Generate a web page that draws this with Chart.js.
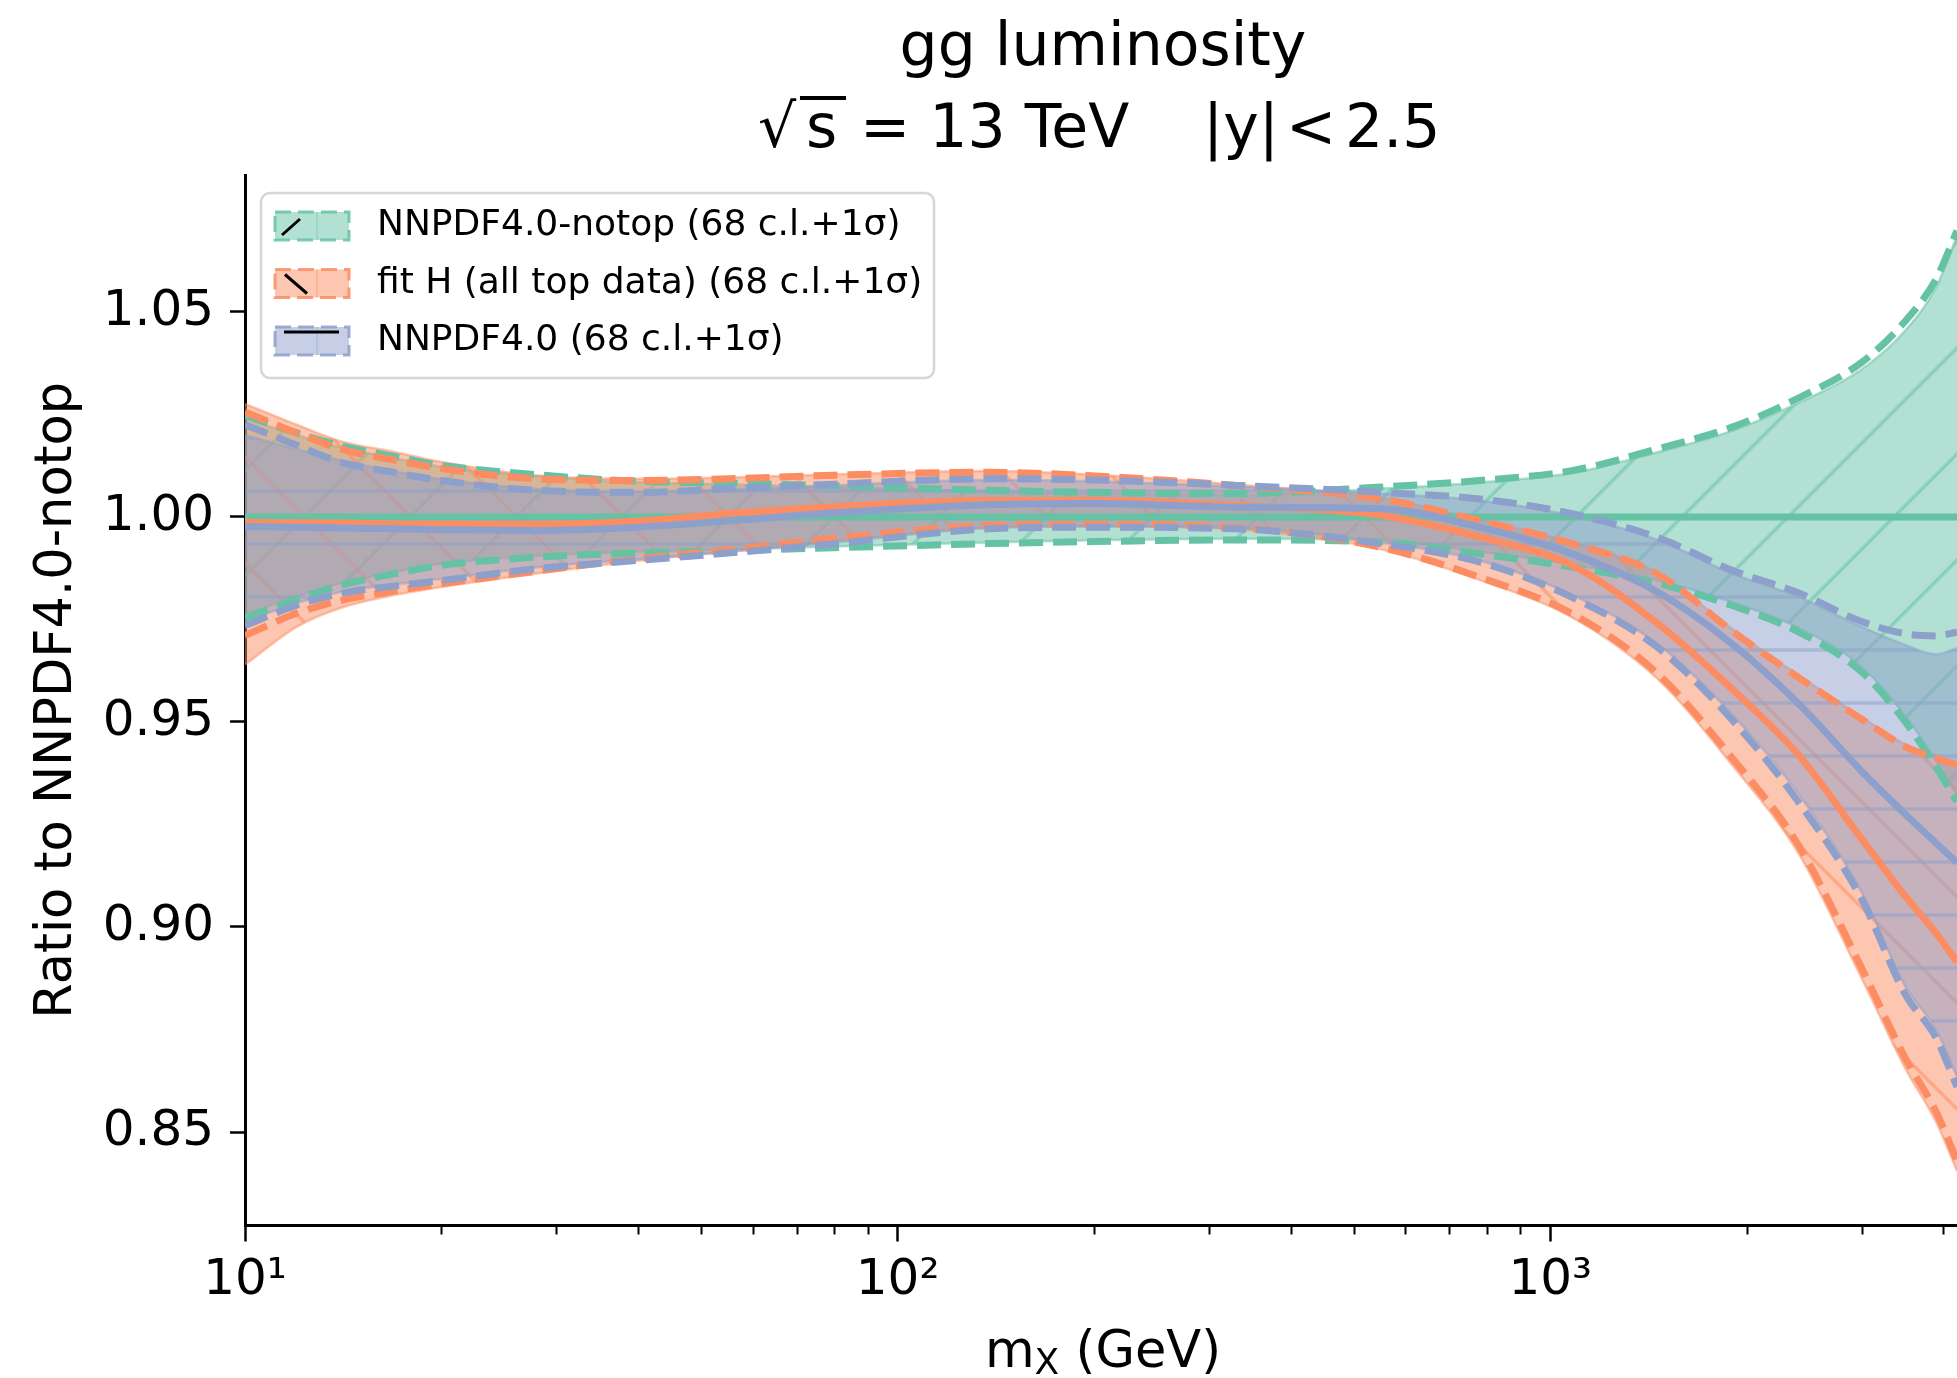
<!DOCTYPE html>
<html>
<head>
<meta charset="utf-8">
<title>gg luminosity ratio</title>
<script src="https://cdn.jsdelivr.net/npm/chart.js@4.4.1/dist/chart.umd.min.js"></script>
<style>
  html, body { margin: 0; padding: 0; background: #fff; }
  #wrap { width: 1957px; height: 1378px; }
</style>
</head>
<body>
<div id="wrap"><canvas id="lumiChart" width="1957" height="1378"></canvas></div>
<script>
// invariant mass points (GeV)
const mX = [10, 12, 14, 17, 20, 28, 40, 57, 80, 138, 200, 330, 550, 780, 1080, 1460, 1900, 2400, 3000, 3500, 3900, 4200];

// NNPDF4.0-notop (reference, so central = 1)
const notopCentral = [1, 1, 1, 1, 1, 1, 1, 1, 1, 1, 1, 1, 1, 1, 1, 1, 1, 1, 1, 1, 1, 1];
const notopBandUp = [1.0240, 1.0200, 1.0170, 1.0143, 1.0122, 1.0100, 1.0085, 1.0079, 1.0073, 1.0062, 1.0057, 1.0054, 1.0069, 1.0084, 1.0107, 1.0158, 1.0210, 1.0278, 1.0360, 1.0455, 1.0560, 1.0685];
const notopBandDn = [0.9762, 0.9806, 0.9838, 0.9866, 0.9886, 0.9905, 0.9915, 0.9921, 0.9928, 0.9938, 0.9943, 0.9947, 0.9943, 0.9915, 0.9884, 0.9845, 0.9792, 0.9730, 0.9635, 0.9515, 0.9405, 0.9320];
const notopSigUp = [1.0248, 1.0205, 1.0174, 1.0147, 1.0126, 1.0103, 1.0087, 1.0082, 1.0076, 1.0065, 1.0060, 1.0057, 1.0073, 1.0089, 1.0113, 1.0166, 1.0219, 1.0290, 1.0377, 1.0478, 1.0580, 1.0698];
const notopSigDn = [0.9754, 0.9800, 0.9833, 0.9862, 0.9882, 0.9902, 0.9912, 0.9918, 0.9925, 0.9935, 0.9940, 0.9944, 0.9939, 0.9910, 0.9878, 0.9838, 0.9784, 0.9720, 0.9622, 0.9500, 0.9390, 0.9306];

// fit H (all top data)
const fitHCentral = [0.9987, 0.9986, 0.9985, 0.9983, 0.9982, 0.9982, 0.9990, 1.0010, 1.0025, 1.0040, 1.0040, 1.0028, 1.0004, 0.9951, 0.9882, 0.9740, 0.9580, 0.9420, 0.9215, 0.9075, 0.8985, 0.8915];
const fitHBandUp = [1.0276, 1.0225, 1.0185, 1.0158, 1.0134, 1.0101, 1.0093, 1.0097, 1.0104, 1.0112, 1.0103, 1.0079, 1.0046, 0.9993, 0.9938, 0.9864, 0.9727, 0.9614, 0.9512, 0.9445, 0.9417, 0.9400];
const fitHBandDn = [0.9640, 0.9732, 0.9778, 0.9810, 0.9829, 0.9862, 0.9893, 0.9918, 0.9941, 0.9975, 0.9978, 0.9970, 0.9921, 0.9846, 0.9755, 0.9605, 0.9395, 0.9180, 0.8875, 0.8655, 0.8525, 0.8405];
const fitHSigUp = [1.0256, 1.0205, 1.0166, 1.0138, 1.0118, 1.0093, 1.0089, 1.0094, 1.0102, 1.0109, 1.0100, 1.0077, 1.0044, 0.9991, 0.9935, 0.9861, 0.9722, 0.9609, 0.9507, 0.9440, 0.9412, 0.9395];
const fitHSigDn = [0.9711, 0.9765, 0.9796, 0.9820, 0.9837, 0.9868, 0.9898, 0.9922, 0.9948, 0.9979, 0.9982, 0.9974, 0.9926, 0.9853, 0.9764, 0.9618, 0.9412, 0.9200, 0.8900, 0.8680, 0.8550, 0.8430];

// NNPDF4.0
const nnpdfCentral = [0.9977, 0.9975, 0.9973, 0.9971, 0.9969, 0.9967, 0.9975, 0.9992, 1.0010, 1.0030, 1.0033, 1.0024, 1.0020, 0.9975, 0.9910, 0.9817, 0.9690, 0.9545, 0.9380, 0.9275, 0.9205, 0.9157];
const nnpdfBandUp = [1.0200, 1.0165, 1.0138, 1.0111, 1.0092, 1.0068, 1.0062, 1.0068, 1.0077, 1.0090, 1.0087, 1.0074, 1.0057, 1.0040, 1.0003, 0.9944, 0.9862, 0.9805, 0.9732, 0.9688, 0.9665, 0.9680];
const nnpdfBandDn = [0.9745, 0.9790, 0.9817, 0.9836, 0.9849, 0.9877, 0.9897, 0.9917, 0.9938, 0.9973, 0.9977, 0.9973, 0.9938, 0.9894, 0.9810, 0.9690, 0.9518, 0.9325, 0.9085, 0.8855, 0.8750, 0.8635];
const nnpdfSigUp = [1.0225, 1.0175, 1.0134, 1.0108, 1.0089, 1.0065, 1.0060, 1.0070, 1.0080, 1.0093, 1.0090, 1.0077, 1.0060, 1.0044, 1.0008, 0.9950, 0.9870, 0.9815, 0.9745, 0.9715, 0.9710, 0.9719];
const nnpdfSigDn = [0.9735, 0.9785, 0.9813, 0.9832, 0.9845, 0.9874, 0.9894, 0.9914, 0.9935, 0.9971, 0.9975, 0.9971, 0.9935, 0.9890, 0.9804, 0.9682, 0.9505, 0.9305, 0.9068, 0.8835, 0.8730, 0.8610];

const pdfLabels = ['NNPDF4.0-notop (68 c.l.+1σ)', 'fit H (all top data) (68 c.l.+1σ)', 'NNPDF4.0 (68 c.l.+1σ)'];
const pdfColors = ['#66c2a5', '#fc8d62', '#8da0cb'];
const pdfHatch = ['/', '\\', '-'];

const yTicks = [0.85, 0.90, 0.95, 1.00, 1.05];
const xTicks = [10, 100, 1000];
const xTickLabels = ['10¹', '10²', '10³'];
const xMinorTicks = [20, 30, 40, 50, 60, 70, 80, 90, 200, 300, 400, 500, 600, 700, 800, 900, 2000, 3000, 4000];

const FONT = 'DejaVu Sans';

function rgba(hex, a) {
  const n = parseInt(hex.slice(1), 16);
  return 'rgba(' + (n >> 16) + ',' + ((n >> 8) & 255) + ',' + (n & 255) + ',' + a + ')';
}

// matplotlib-like hatched fill as a canvas pattern
function hatchPattern(hex, kind) {
  const s = kind === '-' ? 53 : 106;
  const cv = document.createElement('canvas');
  cv.width = s; cv.height = s;
  const g = cv.getContext('2d');
  g.fillStyle = rgba(hex, 0.5);
  g.fillRect(0, 0, s, s);
  g.strokeStyle = rgba(hex, 0.5);
  g.lineWidth = 3.5;
  g.beginPath();
  if (kind === '-') {
    g.moveTo(0, 14); g.lineTo(s, 14);
  } else if (kind === '/') {
    for (const c of [79 - s, 79, 79 + s]) { g.moveTo(-10, c + 10); g.lineTo(s + 10, c - s - 10); }
  } else {
    for (const c of [-s, 0, s]) { g.moveTo(-10, -10 - c); g.lineTo(s + 10, s + 10 - c); }
  }
  g.stroke();
  return g.createPattern(cv, 'repeat');
}

function series(arr) {
  return mX.map((x, i) => ({ x: x, y: arr[i] }));
}

const bands = [[notopBandUp, notopBandDn], [fitHBandUp, fitHBandDn], [nnpdfBandUp, nnpdfBandDn]];
const lines = [[notopCentral, notopSigUp, notopSigDn], [fitHCentral, fitHSigUp, fitHSigDn], [nnpdfCentral, nnpdfSigUp, nnpdfSigDn]];

var datasets = [];
// all bands first, then the lines on top
bands.forEach(function (b, k) {
  datasets.push({ label: pdfLabels[k], data: series(b[0]), borderColor: rgba(pdfColors[k], 0.5), borderWidth: 2.5,
    backgroundColor: hatchPattern(pdfColors[k], pdfHatch[k]), fill: '+1' });
  datasets.push({ label: pdfLabels[k] + ' low', data: series(b[1]), borderColor: rgba(pdfColors[k], 0.5), borderWidth: 2.5, fill: false });
});
lines.forEach(function (l, k) {
  datasets.push({ label: pdfLabels[k] + ' central', data: series(l[0]), borderColor: pdfColors[k], borderWidth: 7, fill: false });
  datasets.push({ label: pdfLabels[k] + ' +1σ', data: series(l[1]), borderColor: pdfColors[k], borderWidth: 7, borderDash: [24, 10], fill: false });
  datasets.push({ label: pdfLabels[k] + ' -1σ', data: series(l[2]), borderColor: pdfColors[k], borderWidth: 7, borderDash: [24, 10], fill: false });
});
// first in list gets drawn first
datasets.forEach(function (d, i) { d.order = datasets.length - i; });

const decorations = {
  id: 'decorations',
  afterDraw(chart) {
    const c = chart.ctx;
    const xs = chart.scales.x;
    const area = chart.chartArea;
    c.save();

    // minor ticks on the log axis
    c.strokeStyle = '#000';
    c.lineWidth = 2;
    c.beginPath();
    xMinorTicks.forEach(function (v) {
      const px = Math.round(xs.getPixelForValue(v)) + 0.5;
      c.moveTo(px, area.bottom);
      c.lineTo(px, area.bottom + 9);
    });
    c.stroke();

    // title
    c.fillStyle = '#000';
    c.textBaseline = 'alphabetic';
    c.textAlign = 'center';
    c.font = '60px "' + FONT + '"';
    c.fillText('gg luminosity', 1103, 65);
    c.textAlign = 'left';
    c.fillText('√', 758, 147);
    c.fillText('s', 806, 147);
    c.lineWidth = 4;
    c.beginPath(); c.moveTo(800, 98); c.lineTo(846, 98); c.stroke();
    c.fillText('= 13 TeV', 860, 147);
    c.fillText('|y|', 1203, 147);
    c.fillText('<', 1286, 147);
    c.fillText('2.5', 1345, 147);

    // x axis label m_X (GeV)
    c.font = '51px "' + FONT + '"';
    const wm = c.measureText('m').width;
    c.font = '36px "' + FONT + '"';
    const wx = c.measureText('X').width;
    c.font = '51px "' + FONT + '"';
    const wr = c.measureText(' (GeV)').width;
    let x0 = 1103 - (wm + wx + wr) / 2;
    c.fillText('m', x0, 1367);
    c.font = '36px "' + FONT + '"';
    c.fillText('X', x0 + wm, 1374);
    c.font = '51px "' + FONT + '"';
    c.fillText(' (GeV)', x0 + wm + wx, 1367);

    // legend
    const bx = 261, by = 193, bw = 673, bh = 185;
    c.beginPath();
    c.roundRect(bx, by, bw, bh, 9);
    c.fillStyle = 'rgba(255,255,255,0.8)';
    c.fill();
    c.strokeStyle = '#d6d6d6';
    c.lineWidth = 2.5;
    c.stroke();
    pdfLabels.forEach(function (lab, k) {
      const hx = 275, hy = 212 + k * 57.5, hw = 74, hh = 28;
      const col = pdfColors[k];
      c.fillStyle = rgba(col, 0.5);
      c.fillRect(hx, hy, hw, hh);
      c.strokeStyle = rgba(col, 0.4);
      c.lineWidth = 1.5;
      c.beginPath(); c.moveTo(hx + hw / 2 + 5, hy); c.lineTo(hx + hw / 2 + 5, hy + hh); c.stroke();
      c.setLineDash([16, 7]);
      c.strokeStyle = rgba(col, 0.85);
      c.lineWidth = 3;
      c.strokeRect(hx, hy, hw, hh);
      c.setLineDash([]);
      c.strokeStyle = '#000';
      c.lineWidth = 3;
      c.beginPath();
      if (pdfHatch[k] === '/') { c.moveTo(hx + 7, hy + 23); c.lineTo(hx + 25, hy + 7); }
      else if (pdfHatch[k] === '\\') { c.moveTo(hx + 10, hy + 5); c.lineTo(hx + 32, hy + 24); }
      else { c.moveTo(hx + 9, hy + 5); c.lineTo(hx + 64, hy + 5); }
      c.stroke();
      c.fillStyle = '#000';
      c.font = '36px "' + FONT + '"';
      c.fillText(lab, 377, hy + 23);
    });
    c.restore();
  }
};

const ctx = document.getElementById('lumiChart');
const lumiChart = new Chart(ctx, {
  type: 'line',
  data: { datasets: datasets },
  options: {
    responsive: false,
    animation: false,
    devicePixelRatio: 1,
    layout: { padding: { top: 175, right: 0, bottom: 0, left: 0 } },
    elements: {
      point: { radius: 0, hoverRadius: 0 },
      line: { cubicInterpolationMode: 'monotone' }
    },
    plugins: { legend: { display: false }, tooltip: { enabled: false }, title: { display: false } },
    scales: {
      x: {
        type: 'logarithmic',
        min: 10,
        max: 4200,
        afterBuildTicks: function (s) { s.ticks = xTicks.map(function (v) { return { value: v }; }); },
        afterFit: function (s) { s.height = 152.5; },
        ticks: {
          callback: function (v) { const i = xTicks.indexOf(v); return i >= 0 ? xTickLabels[i] : ''; },
          font: { family: FONT, size: 50 },
          color: '#000',
          padding: 10,
          maxRotation: 0,
          autoSkip: false
        },
        grid: { drawOnChartArea: false, tickLength: 16, tickWidth: 2.5, tickColor: '#000' },
        border: { color: '#000', width: 3 }
      },
      y: {
        min: 0.8272,
        max: 1.0834,
        afterBuildTicks: function (s) { s.ticks = yTicks.map(function (v) { return { value: v }; }); },
        afterFit: function (s) { s.width = 245; },
        ticks: {
          callback: function (v) { return v.toFixed(2); },
          font: { family: FONT, size: 50 },
          color: '#000',
          padding: 16
        },
        title: {
          display: true,
          text: 'Ratio to NNPDF4.0-notop',
          font: { family: FONT, size: 51 },
          color: '#000',
          padding: { top: 27, bottom: 0 }
        },
        grid: { drawOnChartArea: false, tickLength: 15, tickWidth: 2.5, tickColor: '#000' },
        border: { color: '#000', width: 3 }
      }
    }
  },
  plugins: [decorations]
});
</script>
</body>
</html>
